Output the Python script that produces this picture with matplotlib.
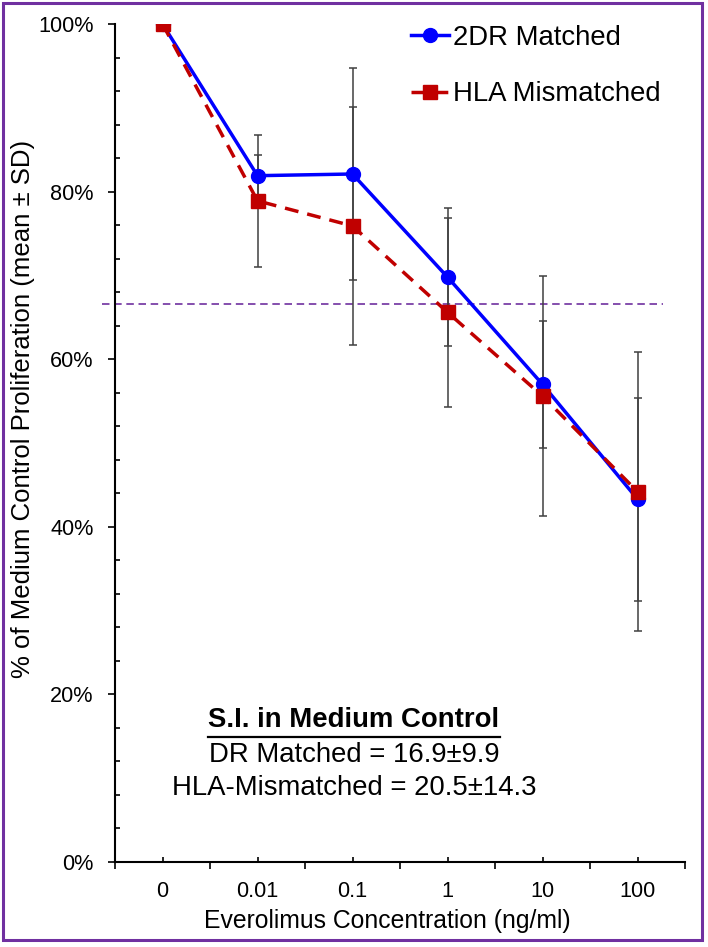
import matplotlib
matplotlib.use('Agg')
import matplotlib.pyplot as plt
from matplotlib.ticker import FixedLocator, MultipleLocator, NullFormatter, FixedFormatter
from matplotlib.lines import Line2D
from matplotlib.patches import Rectangle

plt.rcParams['font.family'] = ['Liberation Sans', 'DejaVu Sans']

# ---------------- data ----------------
categories = ['0', '0.01', '0.1', '1', '10', '100']
dr_mean = [100, 81.9, 82.1, 69.8, 57.0, 43.3]
dr_sd = [0, 2.5, 12.7, 8.2, 7.6, 12.1]
hla_mean = [100, 78.9, 75.9, 65.6, 55.6, 44.2]
hla_sd = [0, 7.9, 14.2, 11.3, 14.3, 16.6]
threshold = 66.6
yticks = [0, 20, 40, 60, 80, 100]
ytick_labels = ['0%', '20%', '40%', '60%', '80%', '100%']
series_labels = ['2DR Matched', 'HLA Mismatched']
xlabel = 'Everolimus Concentration (ng/ml)'
ylabel = '% of Medium Control Proliferation (mean \u00b1 SD)'
note_title = 'S.I. in Medium Control'
note_lines = ['DR Matched = 16.9\u00b19.9', 'HLA-Mismatched = 20.5\u00b114.3']

W, H = 708, 947
fig = plt.figure(figsize=(W / 100, H / 100), dpi=100)
fig.patch.set_facecolor('white')

def fx(px):
    return px / W

def fy(py):
    return 1 - py / H

ax = fig.add_axes([fx(115), fy(862), (685 - 115) / W, (862 - 24) / H])
x = list(range(len(categories)))

ax.errorbar(x, dr_mean, yerr=dr_sd, fmt='none', ecolor='#404040', elinewidth=1.1,
            capsize=2.8, capthick=1.1, zorder=2)
ax.errorbar(x, hla_mean, yerr=hla_sd, fmt='none', ecolor='#404040', elinewidth=1.1,
            capsize=2.8, capthick=1.1, zorder=2)

ax.axhline(threshold, xmin=(101.5 - 115) / 570, xmax=(663 - 115) / 570, color='#7030A0',
           lw=1.2, dashes=[4.5, 2.8], clip_on=False, zorder=1)

l1, = ax.plot(x, dr_mean, color='#0000FF', lw=2.5, marker='o', ms=10,
              label=series_labels[0], zorder=3)
l2, = ax.plot(x, hla_mean, color='#C00000', lw=2.5, marker='s', ms=10,
              label=series_labels[1], zorder=4)
l2.set_dashes([4, 2.6])

ax.set_xlim(-0.5, len(categories) - 0.5)
ax.set_ylim(0, 100)

# x axis: boundary ticks (out), category ticks (in) with labels
ax.xaxis.set_major_locator(FixedLocator([i - 0.5 for i in range(len(categories) + 1)]))
ax.xaxis.set_major_formatter(NullFormatter())
ax.xaxis.set_minor_locator(FixedLocator(x))
ax.xaxis.set_minor_formatter(FixedFormatter(categories))
ax.tick_params(axis='x', which='major', direction='out', length=5, width=1.2, color='black')
ax.tick_params(axis='x', which='minor', direction='in', length=3.6, width=1.2, color='black',
               labelsize=15.6, pad=13.5)

ax.yaxis.set_major_locator(FixedLocator(yticks))
ax.yaxis.set_major_formatter(FixedFormatter(ytick_labels))
ax.yaxis.set_minor_locator(MultipleLocator(4))
ax.tick_params(axis='y', which='major', direction='out', length=4.8, width=1.2, color='black',
               labelsize=15.6, pad=10.5)
ax.tick_params(axis='y', which='minor', direction='in', length=3.6, width=1.2, color='black')

for s in ['top', 'right']:
    ax.spines[s].set_visible(False)
for s in ['left', 'bottom']:
    ax.spines[s].set_linewidth(1.5)
    ax.spines[s].set_color('black')

# labels
fig.text(fx(387), fy(921), xlabel, ha='center', va='center', fontsize=17.8)
fig.text(fx(23), fy(409), ylabel, ha='center', va='center', rotation=90, fontsize=18.5)

# legend
ax.legend(handles=[l1, l2], loc='upper left', bbox_to_anchor=(fx(411), fy(25)),
          bbox_transform=fig.transFigure, frameon=False, fontsize=19.8,
          handlelength=1.37, handletextpad=0.15, labelspacing=1.1, borderpad=0,
          borderaxespad=0)

# annotation block
t_title = fig.text(fx(354), fy(720), note_title, ha='center', va='center', fontsize=19.8,
                   fontweight='bold')
fig.text(fx(354), fy(755), note_lines[0], ha='center', va='center', fontsize=19.8)
fig.text(fx(354), fy(788), note_lines[1], ha='center', va='center', fontsize=19.8)

fig.canvas.draw()
bb = t_title.get_window_extent()
fig.add_artist(Line2D([bb.x0 / W, bb.x1 / W], [fy(737), fy(737)], transform=fig.transFigure,
                      color='black', lw=1.6))

# figure frame
fig.add_artist(Rectangle((fx(3), fy(940)), (702 - 3) / W, (940 - 3) / H,
                         transform=fig.transFigure, fill=False, edgecolor='#7030A0', lw=2.2))

fig.savefig('out.png', dpi=100)
